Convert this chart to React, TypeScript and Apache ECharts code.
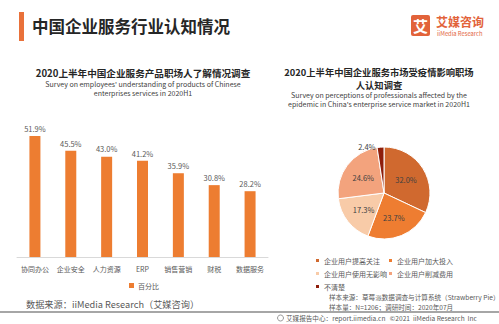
import React, { useEffect, useRef } from "react";
import * as echarts from "echarts";

const categories = ["协同办公", "企业安全", "人力资源", "ERP", "销售营销", "财税", "数据服务"];
const barValues = [51.9, 45.5, 43.0, 41.2, 35.9, 30.8, 28.2];
const barSeriesName = "百分比";

const pieNames = ["企业用户提高关注", "企业用户加大投入", "企业用户使用无影响", "企业用户削减费用", "不清楚"];
const pieValues = [32.0, 23.7, 17.3, 24.6, 2.4];
const pieColors = ["#D0692F", "#EE7D31", "#F8CBA8", "#F3A37D", "#8E1E0B"];

const FONT = "'Noto Sans CJK SC', 'Noto Sans', sans-serif";

export default function App() {
  const ref = useRef<HTMLDivElement>(null);
  useEffect(() => {
    if (!ref.current) return;
    const chart = echarts.init(ref.current, undefined, { renderer: "svg" });
    const legendItem = (name: string, left: number, top: number) => ({
      data: [name],
      left,
      top,
      itemWidth: 5,
      itemHeight: 5,
      icon: "rect",
      itemGap: 4,
      textStyle: { fontSize: 7, color: "#595959", fontFamily: FONT, padding: [0, 0, 0, -1] },
      padding: 0,
    });
    const line = (text: string, x: number, y: number, fontSize: number, bold: boolean, fill: string, align = "center") => ({
      type: "text",
      x,
      y,
      style: {
        text,
        fontSize,
        lineHeight: Math.round(fontSize * 1.05),
        fontWeight: bold ? "bold" : "normal",
        fill,
        fontFamily: FONT,
        align,
        verticalAlign: "middle",
      },
    });
    chart.setOption({
      animation: false,
      backgroundColor: "#ffffff",
      textStyle: { fontFamily: FONT },
      grid: { left: 17, right: 231, top: 117, bottom: 67 },
      xAxis: {
        type: "category",
        data: categories,
        axisLine: { lineStyle: { color: "#D9D9D9" } },
        axisTick: { show: false },
        axisLabel: { fontSize: 7, color: "#595959", margin: 8, fontFamily: FONT, interval: 0 },
      },
      yAxis: { type: "value", min: 0, max: 60, show: false, splitLine: { show: false } },
      legend: [
        {
          data: [barSeriesName],
          left: 129,
          top: 282,
          itemWidth: 5,
          itemHeight: 5,
          icon: "rect",
          padding: 0,
          textStyle: { fontSize: 7, color: "#595959", fontFamily: FONT, padding: [0, 0, 0, -1] },
        },
        legendItem(pieNames[0], 314, 257),
        legendItem(pieNames[1], 387, 257),
        legendItem(pieNames[2], 314, 270),
        legendItem(pieNames[3], 387, 270),
        legendItem(pieNames[4], 314, 283),
      ],
      series: [
        {
          name: barSeriesName,
          type: "bar",
          data: barValues,
          barWidth: 11,
          itemStyle: { color: "#ED7D31" },
          label: {
            show: true,
            position: "top",
            distance: 4,
            fontSize: 7.5,
            color: "#595959",
            fontFamily: FONT,
            formatter: (p: any) => p.value.toFixed(1) + "%",
          },
        },
        {
          type: "pie",
          center: [384, 193],
          radius: [0, 46],
          startAngle: 90,
          clockwise: true,
          itemStyle: { borderColor: "#ffffff", borderWidth: 1 },
          label: {
            show: true,
            position: "inside",
            fontSize: 7.5,
            color: "#404040",
            fontFamily: FONT,
            formatter: (p: any) => p.value.toFixed(1) + "%",
          },
          labelLine: { show: false },
          data: pieNames.map((n, i) => {
            const d: any = { name: n, value: pieValues[i], itemStyle: { color: pieColors[i] } };
            if (i === 4) {
              d.label = { position: "outside", distance: 2 };
              d.labelLine = { show: false, length: 1, length2: 0 };
            }
            return d;
          }),
        },
      ],
      graphic: [
        { type: "rect", shape: { x: 19, y: 12, width: 5, height: 29 }, style: { fill: "#E9713A" } },
        line("中国企业服务行业认知情况", 32, 26, 16.5, true, "#262626", "left"),
        { type: "rect", shape: { x: 411, y: 15, width: 19, height: 21, r: 2 }, style: { fill: "#E2633A" } },
        line("艾", 420.5, 25.5, 15, true, "#ffffff"),
        line("艾媒咨询", 436, 21, 12, true, "#E2633A", "left"),
        line("iiMedia Research", 437, 33.5, 5.8, false, "#E2633A", "left"),
        line("2020上半年中国企业服务产品职场人了解情况调查", 143, 73, 9.6, true, "#262626"),
        line("Survey on employees' understanding of products of Chinese", 143, 84, 7, false, "#404040"),
        line("enterprises services in 2020H1", 143, 92.5, 7, false, "#404040"),
        line("2020上半年中国企业服务市场受疫情影响职场", 379, 71.5, 9.3, true, "#262626"),
        line("人认知调查", 379, 84.5, 9.3, true, "#262626"),
        line("Survey on perceptions of professionals affected by the", 379, 95, 7, false, "#404040"),
        line("epidemic in China's enterprise service market in 2020H1", 379, 103.5, 7, false, "#404040"),
        line("样本来源：草莓派数据调查与计算系统（Strawberry Pie）", 329, 297, 6.6, false, "#595959", "left"),
        line("样本量：N=1206；调研时间：2020年07月", 329, 307, 6.6, false, "#595959", "left"),
        line("数据来源：iiMedia Research（艾媒咨询）", 26, 304, 9.2, false, "#595959", "left"),
        { type: "rect", shape: { x: 0, y: 311, width: 499, height: 2 }, style: { fill: "#A6A6A6" } },
        { type: "circle", shape: { cx: 280.5, cy: 318, r: 3 }, style: { fill: "none", stroke: "#7F7F7F", lineWidth: 0.8 } },
        line("艾媒报告中心：report.iimedia.cn   ©2021  iiMedia Research  Inc", 286, 318, 6.6, false, "#595959", "left"),
      ],
    });
    return () => chart.dispose();
  }, []);
  return <div ref={ref} style={{ position: "fixed", left: 0, top: 0, width: 499, height: 324 }} />;
}
